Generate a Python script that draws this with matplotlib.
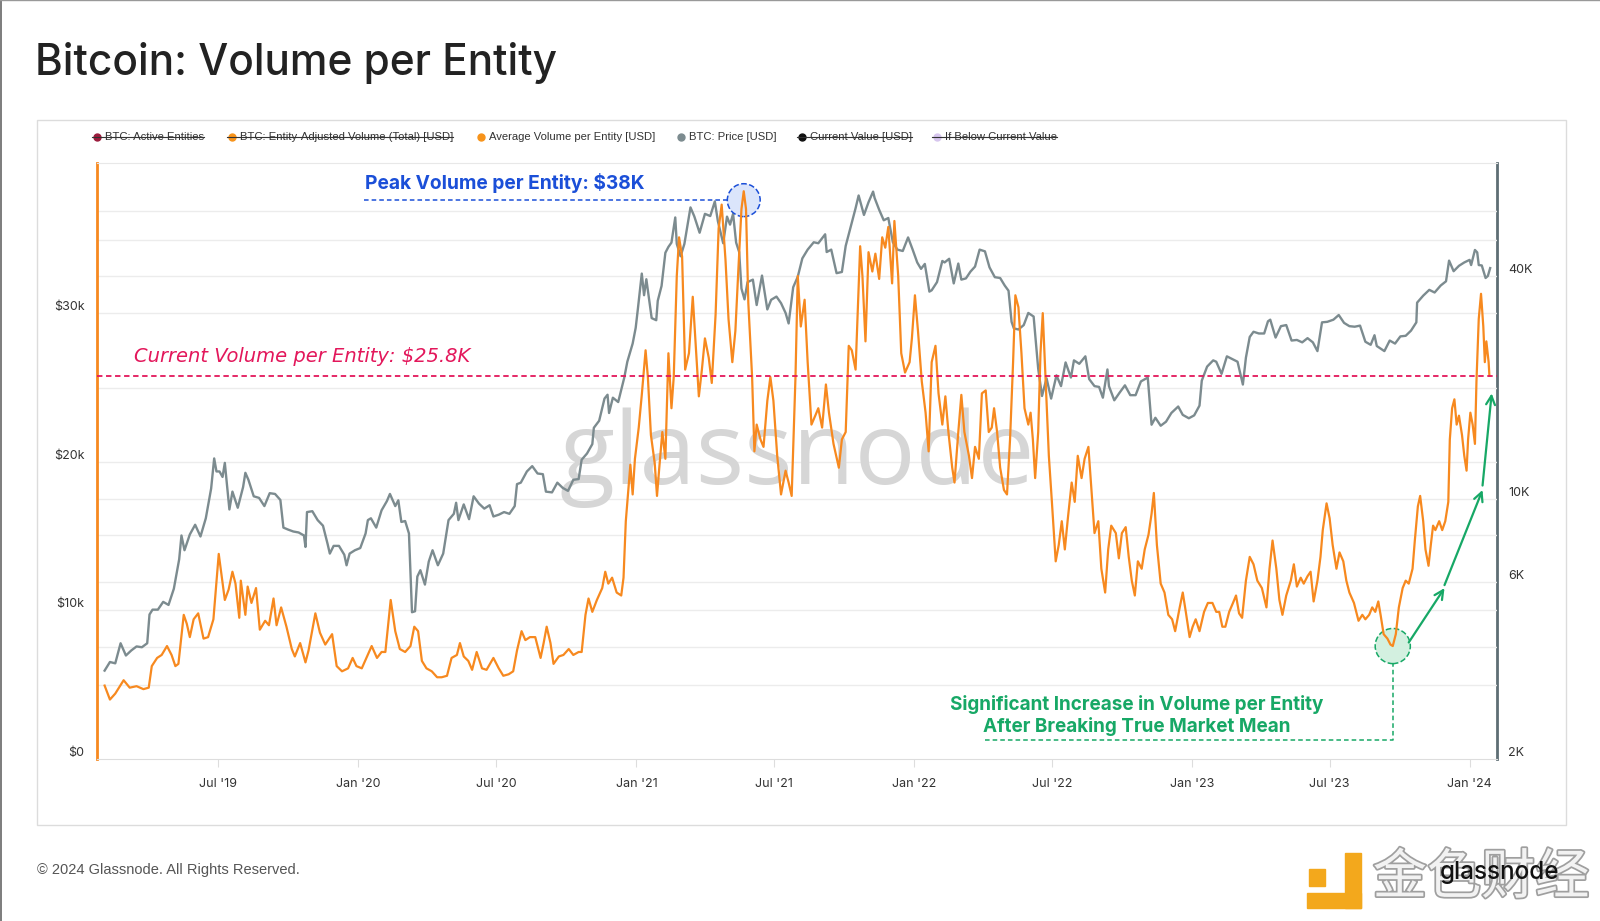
import matplotlib
matplotlib.use("Agg")
import matplotlib.pyplot as plt
import matplotlib.dates as mdates
import matplotlib.patheffects as pe
import matplotlib.transforms as mtransforms
from matplotlib.lines import Line2D
from matplotlib.patches import Rectangle
from matplotlib.ticker import NullLocator
import pandas as pd

# ---- data ----
# BTC price, thousands of USD (right, log axis)
price_dates = [
    "2019-02-02", "2019-02-09", "2019-02-16", "2019-02-23", "2019-03-02", "2019-03-09", "2019-03-16", "2019-03-23",
    "2019-03-30", "2019-04-02", "2019-04-06", "2019-04-13", "2019-04-20", "2019-04-27", "2019-05-04", "2019-05-11",
    "2019-05-14", "2019-05-18", "2019-05-25", "2019-06-01", "2019-06-08", "2019-06-15", "2019-06-22", "2019-06-26",
    "2019-06-29", "2019-07-03", "2019-07-07", "2019-07-10", "2019-07-16", "2019-07-20", "2019-07-27", "2019-08-03",
    "2019-08-06", "2019-08-10", "2019-08-17", "2019-08-24", "2019-08-31", "2019-09-07", "2019-09-14", "2019-09-21",
    "2019-09-25", "2019-10-01", "2019-10-08", "2019-10-15", "2019-10-22", "2019-10-24", "2019-10-26", "2019-11-02",
    "2019-11-09", "2019-11-16", "2019-11-22", "2019-11-25", "2019-11-30", "2019-12-07", "2019-12-14", "2019-12-17",
    "2019-12-21", "2019-12-28", "2020-01-04", "2020-01-11", "2020-01-14", "2020-01-18", "2020-01-25", "2020-02-01",
    "2020-02-08", "2020-02-12", "2020-02-19", "2020-02-23", "2020-02-27", "2020-03-03", "2020-03-08", "2020-03-12",
    "2020-03-16", "2020-03-19", "2020-03-23", "2020-03-29", "2020-04-03", "2020-04-08", "2020-04-15", "2020-04-22",
    "2020-04-29", "2020-05-06", "2020-05-09", "2020-05-12", "2020-05-19", "2020-05-26", "2020-06-01", "2020-06-08",
    "2020-06-15", "2020-06-22", "2020-06-27", "2020-07-04", "2020-07-11", "2020-07-18", "2020-07-25", "2020-07-28",
    "2020-08-02", "2020-08-10", "2020-08-17", "2020-08-24", "2020-08-31", "2020-09-04", "2020-09-12", "2020-09-19",
    "2020-09-26", "2020-10-03", "2020-10-10", "2020-10-17", "2020-10-21", "2020-10-28", "2020-11-04", "2020-11-06",
    "2020-11-13", "2020-11-20", "2020-11-24", "2020-11-26", "2020-12-01", "2020-12-08", "2020-12-16", "2020-12-20",
    "2020-12-27", "2020-12-31", "2021-01-03", "2021-01-08", "2021-01-11", "2021-01-14", "2021-01-21", "2021-01-27",
    "2021-01-29", "2021-02-03", "2021-02-08", "2021-02-12", "2021-02-16", "2021-02-21", "2021-02-23", "2021-02-28",
    "2021-03-05", "2021-03-13", "2021-03-18", "2021-03-25", "2021-04-01", "2021-04-08", "2021-04-14", "2021-04-18",
    "2021-04-25", "2021-04-30", "2021-05-04", "2021-05-08", "2021-05-12", "2021-05-16", "2021-05-19", "2021-05-23",
    "2021-05-27", "2021-06-03", "2021-06-08", "2021-06-15", "2021-06-22", "2021-06-27", "2021-07-04", "2021-07-10",
    "2021-07-16", "2021-07-20", "2021-07-26", "2021-08-01", "2021-08-07", "2021-08-14", "2021-08-22", "2021-08-28",
    "2021-09-06", "2021-09-08", "2021-09-14", "2021-09-21", "2021-09-28", "2021-10-03", "2021-10-10", "2021-10-16",
    "2021-10-20", "2021-10-27", "2021-11-02", "2021-11-08", "2021-11-10", "2021-11-16", "2021-11-22", "2021-11-28",
    "2021-12-04", "2021-12-10", "2021-12-17", "2021-12-24", "2021-12-30", "2022-01-05", "2022-01-10", "2022-01-15",
    "2022-01-21", "2022-01-24", "2022-01-31", "2022-02-07", "2022-02-10", "2022-02-16", "2022-02-22", "2022-02-28",
    "2022-03-04", "2022-03-10", "2022-03-16", "2022-03-22", "2022-03-28", "2022-04-04", "2022-04-10", "2022-04-17",
    "2022-04-24", "2022-04-30", "2022-05-05", "2022-05-09", "2022-05-12", "2022-05-18", "2022-05-25", "2022-05-31",
    "2022-06-07", "2022-06-13", "2022-06-18", "2022-06-24", "2022-06-30", "2022-07-07", "2022-07-13", "2022-07-19",
    "2022-07-26", "2022-07-30", "2022-08-06", "2022-08-14", "2022-08-19", "2022-08-26", "2022-09-01", "2022-09-06",
    "2022-09-12", "2022-09-14", "2022-09-21", "2022-09-28", "2022-10-05", "2022-10-12", "2022-10-19", "2022-10-26",
    "2022-11-04", "2022-11-09", "2022-11-14", "2022-11-21", "2022-11-28", "2022-12-05", "2022-12-14", "2022-12-20",
    "2022-12-28", "2023-01-04", "2023-01-11", "2023-01-14", "2023-01-21", "2023-01-29", "2023-02-02", "2023-02-09",
    "2023-02-16", "2023-02-23", "2023-03-02", "2023-03-09", "2023-03-13", "2023-03-18", "2023-03-23", "2023-03-30",
    "2023-04-06", "2023-04-11", "2023-04-14", "2023-04-21", "2023-04-28", "2023-05-05", "2023-05-12", "2023-05-19",
    "2023-05-26", "2023-06-02", "2023-06-09", "2023-06-15", "2023-06-21", "2023-06-28", "2023-07-06", "2023-07-13",
    "2023-07-20", "2023-07-27", "2023-08-03", "2023-08-10", "2023-08-17", "2023-08-24", "2023-08-29", "2023-09-01",
    "2023-09-11", "2023-09-18", "2023-09-25", "2023-10-02", "2023-10-09", "2023-10-16", "2023-10-23", "2023-10-24",
    "2023-11-01", "2023-11-09", "2023-11-16", "2023-11-24", "2023-12-01", "2023-12-05", "2023-12-11", "2023-12-18",
    "2023-12-25", "2024-01-01", "2024-01-03", "2024-01-08", "2024-01-11", "2024-01-13", "2024-01-17", "2024-01-22",
    "2024-01-25", "2024-01-28",
]
price_k = [
    3.46, 3.65, 3.62, 4.10, 3.80, 3.92, 4.02, 4.00,
    4.10, 4.90, 5.05, 5.05, 5.30, 5.20, 5.75, 6.90,
    8.00, 7.30, 8.05, 8.55, 7.95, 8.90, 10.70, 12.90,
    11.90, 11.90, 11.50, 12.55, 9.40, 10.50, 9.50, 10.80,
    11.80, 11.30, 10.20, 10.10, 9.60, 10.40, 10.35, 9.97,
    8.40, 8.30, 8.20, 8.15, 8.00, 7.45, 9.25, 9.30,
    8.80, 8.50, 7.60, 7.15, 7.50, 7.50, 7.10, 6.65,
    7.15, 7.30, 7.40, 8.10, 8.80, 8.90, 8.40, 9.35,
    9.90, 10.35, 9.60, 9.95, 8.70, 8.75, 8.10, 4.97,
    5.00, 6.20, 6.45, 5.90, 6.80, 7.30, 6.65, 7.15,
    8.80, 9.15, 9.80, 8.80, 9.70, 8.85, 10.20, 9.75,
    9.45, 9.65, 9.00, 9.10, 9.25, 9.15, 9.60, 11.00,
    11.10, 11.90, 12.30, 11.75, 11.70, 10.50, 10.45, 11.10,
    10.75, 10.55, 11.30, 11.35, 12.80, 13.30, 14.10, 15.60,
    16.30, 18.70, 19.15, 17.10, 18.80, 18.30, 21.30, 23.50,
    26.30, 29.00, 32.80, 40.60, 35.50, 39.20, 30.80, 30.40,
    34.30, 37.60, 46.20, 47.90, 49.20, 57.50, 48.80, 45.20,
    48.80, 61.20, 57.90, 52.30, 58.80, 58.00, 63.50, 56.20,
    49.00, 57.80, 55.00, 58.80, 49.20, 46.40, 37.00, 34.60,
    38.50, 39.10, 33.40, 40.10, 32.50, 34.50, 35.20, 33.80,
    31.80, 29.80, 37.30, 39.80, 44.60, 47.10, 49.30, 49.00,
    51.80, 46.40, 47.10, 40.70, 41.00, 48.20, 54.70, 60.90,
    65.90, 58.40, 63.20, 67.50, 64.90, 60.30, 56.50, 57.30,
    49.30, 47.10, 46.70, 50.80, 47.10, 43.50, 41.80, 43.10,
    36.30, 36.60, 38.50, 43.90, 43.50, 44.50, 38.20, 43.20,
    39.10, 39.40, 41.10, 42.40, 47.10, 46.60, 42.20, 39.70,
    39.50, 37.70, 36.50, 30.10, 28.90, 28.70, 29.50, 31.80,
    31.10, 22.50, 19.00, 21.20, 18.70, 21.60, 20.20, 23.40,
    21.30, 23.70, 23.20, 24.30, 21.10, 20.20, 20.10, 18.80,
    22.40, 20.20, 18.50, 19.40, 20.30, 19.10, 19.10, 20.80,
    21.30, 15.90, 16.60, 15.80, 16.20, 17.10, 17.80, 16.90,
    16.55, 16.85, 17.90, 20.90, 22.80, 23.70, 23.50, 21.80,
    24.30, 23.90, 23.50, 20.40, 24.10, 27.40, 28.30, 28.00,
    28.00, 30.20, 30.50, 27.30, 29.30, 29.50, 26.80, 26.90,
    26.50, 27.20, 26.50, 25.10, 30.00, 30.10, 30.50, 31.40,
    29.90, 29.30, 29.20, 29.40, 26.60, 26.10, 27.70, 25.90,
    25.10, 26.80, 26.30, 27.50, 27.60, 28.50, 30.00, 33.90,
    35.40, 36.70, 36.10, 37.70, 38.70, 44.00, 41.20, 42.60,
    43.50, 44.20, 42.80, 47.00, 46.30, 42.80, 42.70, 39.50,
    40.00, 42.00,
]

# Average volume per entity, thousands of USD (left axis)
vpe_dates = [
    "2019-02-02", "2019-02-09", "2019-02-16", "2019-02-27", "2019-03-07", "2019-03-16", "2019-03-25", "2019-04-01",
    "2019-04-05", "2019-04-12", "2019-04-18", "2019-04-25", "2019-05-01", "2019-05-06", "2019-05-10", "2019-05-17",
    "2019-05-21", "2019-05-25", "2019-05-30", "2019-06-05", "2019-06-12", "2019-06-18", "2019-06-25", "2019-07-02",
    "2019-07-10", "2019-07-15", "2019-07-20", "2019-07-24", "2019-07-29", "2019-07-31", "2019-08-06", "2019-08-09",
    "2019-08-14", "2019-08-20", "2019-08-25", "2019-09-01", "2019-09-06", "2019-09-12", "2019-09-16", "2019-09-22",
    "2019-09-29", "2019-10-06", "2019-10-10", "2019-10-17", "2019-10-24", "2019-10-28", "2019-11-06", "2019-11-12",
    "2019-11-19", "2019-11-28", "2019-12-04", "2019-12-11", "2019-12-19", "2019-12-25", "2019-12-30", "2020-01-06",
    "2020-01-13", "2020-01-19", "2020-01-26", "2020-02-01", "2020-02-06", "2020-02-13", "2020-02-19", "2020-02-25",
    "2020-03-03", "2020-03-10", "2020-03-15", "2020-03-20", "2020-03-25", "2020-03-31", "2020-04-07", "2020-04-14",
    "2020-04-20", "2020-04-27", "2020-05-03", "2020-05-10", "2020-05-14", "2020-05-19", "2020-05-25", "2020-05-30",
    "2020-06-05", "2020-06-12", "2020-06-18", "2020-06-27", "2020-07-04", "2020-07-10", "2020-07-17", "2020-07-23",
    "2020-07-28", "2020-08-03", "2020-08-08", "2020-08-14", "2020-08-21", "2020-08-28", "2020-09-01", "2020-09-05",
    "2020-09-10", "2020-09-14", "2020-09-21", "2020-09-27", "2020-10-04", "2020-10-10", "2020-10-17", "2020-10-21",
    "2020-10-26", "2020-10-30", "2020-11-04", "2020-11-10", "2020-11-17", "2020-11-21", "2020-11-25", "2020-11-30",
    "2020-12-06", "2020-12-12", "2020-12-15", "2020-12-18", "2020-12-24", "2020-12-27", "2020-12-30", "2021-01-04",
    "2021-01-08", "2021-01-13", "2021-01-16", "2021-01-20", "2021-01-25", "2021-01-28", "2021-01-31", "2021-02-04",
    "2021-02-08", "2021-02-12", "2021-02-16", "2021-02-19", "2021-02-23", "2021-02-26", "2021-03-02", "2021-03-06",
    "2021-03-11", "2021-03-16", "2021-03-19", "2021-03-24", "2021-03-28", "2021-04-01", "2021-04-06", "2021-04-10",
    "2021-04-15", "2021-04-19", "2021-04-23", "2021-04-28", "2021-05-02", "2021-05-07", "2021-05-11", "2021-05-15",
    "2021-05-19", "2021-05-22", "2021-05-25", "2021-05-28", "2021-06-02", "2021-06-05", "2021-06-08", "2021-06-13",
    "2021-06-17", "2021-06-22", "2021-06-26", "2021-06-30", "2021-07-05", "2021-07-10", "2021-07-16", "2021-07-20",
    "2021-07-24", "2021-07-29", "2021-08-01", "2021-08-05", "2021-08-10", "2021-08-14", "2021-08-19", "2021-08-24",
    "2021-08-28", "2021-09-02", "2021-09-07", "2021-09-11", "2021-09-17", "2021-09-24", "2021-09-28", "2021-10-03",
    "2021-10-07", "2021-10-11", "2021-10-16", "2021-10-19", "2021-10-22", "2021-10-25", "2021-10-29", "2021-11-02",
    "2021-11-07", "2021-11-11", "2021-11-16", "2021-11-20", "2021-11-24", "2021-11-28", "2021-12-03", "2021-12-06",
    "2021-12-11", "2021-12-15", "2021-12-20", "2021-12-26", "2021-12-29", "2022-01-02", "2022-01-06", "2022-01-11",
    "2022-01-16", "2022-01-20", "2022-01-24", "2022-01-29", "2022-02-02", "2022-02-07", "2022-02-11", "2022-02-15",
    "2022-02-20", "2022-02-23", "2022-02-28", "2022-03-04", "2022-03-08", "2022-03-14", "2022-03-18", "2022-03-22",
    "2022-03-27", "2022-03-31", "2022-04-05", "2022-04-09", "2022-04-13", "2022-04-16", "2022-04-20", "2022-04-24",
    "2022-04-29", "2022-05-03", "2022-05-07", "2022-05-11", "2022-05-14", "2022-05-18", "2022-05-22", "2022-05-26",
    "2022-05-31", "2022-06-03", "2022-06-06", "2022-06-09", "2022-06-13", "2022-06-16", "2022-06-19", "2022-06-23",
    "2022-06-27", "2022-07-01", "2022-07-06", "2022-07-10", "2022-07-14", "2022-07-18", "2022-07-22", "2022-07-27",
    "2022-07-31", "2022-08-04", "2022-08-09", "2022-08-13", "2022-08-18", "2022-08-22", "2022-08-26", "2022-08-31",
    "2022-09-04", "2022-09-09", "2022-09-13", "2022-09-17", "2022-09-23", "2022-09-27", "2022-10-01", "2022-10-06",
    "2022-10-10", "2022-10-14", "2022-10-18", "2022-10-22", "2022-10-27", "2022-10-31", "2022-11-05", "2022-11-09",
    "2022-11-12", "2022-11-16", "2022-11-21", "2022-11-26", "2022-12-01", "2022-12-06", "2022-12-10", "2022-12-16",
    "2022-12-20", "2022-12-24", "2022-12-29", "2023-01-02", "2023-01-06", "2023-01-11", "2023-01-17", "2023-01-22",
    "2023-01-28", "2023-02-02", "2023-02-06", "2023-02-10", "2023-02-14", "2023-02-19", "2023-02-24", "2023-02-28",
    "2023-03-04", "2023-03-08", "2023-03-13", "2023-03-18", "2023-03-23", "2023-03-28", "2023-04-03", "2023-04-09",
    "2023-04-13", "2023-04-17", "2023-04-22", "2023-04-26", "2023-04-30", "2023-05-05", "2023-05-11", "2023-05-15",
    "2023-05-19", "2023-05-24", "2023-05-28", "2023-06-02", "2023-06-06", "2023-06-10", "2023-06-15", "2023-06-19",
    "2023-06-22", "2023-06-27", "2023-07-01", "2023-07-05", "2023-07-10", "2023-07-14", "2023-07-19", "2023-07-23",
    "2023-07-27", "2023-08-02", "2023-08-08", "2023-08-13", "2023-08-17", "2023-08-22", "2023-08-26", "2023-08-30",
    "2023-09-03", "2023-09-06", "2023-09-10", "2023-09-15", "2023-09-19", "2023-09-22", "2023-09-26", "2023-09-30",
    "2023-10-05", "2023-10-09", "2023-10-13", "2023-10-18", "2023-10-21", "2023-10-25", "2023-10-28", "2023-11-01",
    "2023-11-04", "2023-11-08", "2023-11-11", "2023-11-14", "2023-11-17", "2023-11-22", "2023-11-26", "2023-11-30",
    "2023-12-04", "2023-12-06", "2023-12-09", "2023-12-12", "2023-12-15", "2023-12-18", "2023-12-22", "2023-12-25",
    "2023-12-28", "2023-12-30", "2024-01-02", "2024-01-05", "2024-01-08", "2024-01-10", "2024-01-13", "2024-01-16",
    "2024-01-19", "2024-01-21", "2024-01-23", "2024-01-26", "2024-01-27",
]
vpe_k = [
    4.94, 4.0, 4.4, 5.3, 4.8, 4.9, 4.7, 4.8,
    6.25, 6.8, 7.0, 7.6, 7.0, 6.25, 6.4, 9.7,
    9.1, 8.2, 9.4, 9.8, 8.1, 8.2, 9.4, 13.8,
    10.7, 11.4, 12.6, 11.8, 9.5, 12.0, 9.7, 11.6,
    10.5, 11.5, 8.7, 9.3, 9.0, 10.8, 9.0, 10.2,
    8.9, 7.4, 6.9, 7.8, 6.5, 7.3, 9.8, 8.5,
    7.7, 8.4, 6.25, 5.9, 6.1, 6.8, 6.25, 6.1,
    6.9, 7.6, 6.8, 7.2, 7.2, 10.7, 8.6, 7.4,
    7.2, 7.6, 8.9, 8.6, 6.6, 6.1, 5.9, 5.5,
    5.5, 5.6, 6.8, 7.0, 7.8, 6.9, 6.6, 6.0,
    7.2, 6.1, 6.0, 6.8, 6.1, 5.6, 5.7, 5.9,
    7.3, 8.6, 8.0, 8.2, 8.2, 6.8, 7.8, 8.9,
    7.8, 6.4, 6.9, 7.0, 7.4, 7.0, 7.2, 7.2,
    9.7, 10.8, 9.9, 10.7, 11.5, 12.6, 11.8, 12.2,
    11.2, 11.0, 12.2, 16.0, 19.8, 17.8, 20.2, 22.3,
    24.5, 27.5, 25.7, 21.8, 19.9, 17.7, 19.6, 22.0,
    20.2, 27.3, 23.6, 25.7, 32.5, 35.1, 33.8, 26.2,
    27.3, 31.1, 28.6, 24.4, 26.2, 28.3, 27.0, 25.3,
    29.9, 35.7, 37.3, 33.6, 29.6, 26.7, 28.8, 33.0,
    37.0, 38.2, 37.0, 30.7, 25.7, 20.7, 22.5, 21.5,
    21.0, 24.1, 25.7, 24.1, 20.4, 17.8, 19.4, 18.6,
    17.7, 25.7, 32.5, 29.1, 30.9, 26.7, 22.5, 23.1,
    23.6, 22.3, 25.2, 23.3, 21.2, 19.6, 21.5, 22.0,
    27.8, 27.5, 26.2, 30.4, 34.5, 32.5, 28.1, 34.1,
    32.8, 34.0, 32.3, 35.1, 34.4, 35.8, 32.0, 36.2,
    32.5, 27.3, 26.0, 26.7, 28.3, 31.2, 28.8, 25.4,
    23.3, 20.7, 26.7, 27.8, 24.6, 22.5, 24.4, 22.0,
    19.6, 18.6, 22.0, 24.5, 22.0, 20.4, 18.9, 21.0,
    20.2, 24.6, 24.8, 22.0, 22.3, 23.6, 22.0, 19.6,
    18.1, 17.8, 21.5, 26.7, 31.2, 30.4, 27.3, 23.6,
    22.5, 23.3, 21.5, 18.9, 22.0, 27.3, 30.0, 25.2,
    20.4, 17.3, 13.3, 14.4, 16.0, 14.1, 16.2, 18.6,
    17.3, 20.4, 18.9, 20.2, 21.0, 18.1, 15.2, 16.0,
    12.8, 11.2, 14.1, 15.7, 15.2, 13.5, 15.2, 15.6,
    13.6, 12.0, 11.0, 13.3, 12.8, 14.1, 15.1, 16.5,
    17.9, 14.4, 11.8, 11.2, 9.7, 9.4, 8.6, 10.2,
    11.2, 9.9, 8.2, 8.9, 9.4, 8.6, 9.9, 10.5,
    10.5, 9.9, 9.9, 8.9, 8.9, 9.9, 10.5, 11.0,
    9.8, 9.5, 12.0, 13.6, 13.1, 12.0, 11.5, 10.2,
    12.8, 14.7, 12.8, 10.7, 9.7, 11.0, 12.0, 13.1,
    11.6, 12.2, 11.8, 12.3, 12.6, 10.6, 12.0, 13.6,
    15.4, 17.2, 16.2, 14.4, 12.8, 13.9, 13.3, 12.0,
    11.2, 10.5, 9.3, 9.7, 9.4, 9.7, 10.2, 9.9,
    10.6, 9.7, 8.4, 8.1, 7.7, 7.6, 8.4, 10.2,
    11.5, 12.0, 11.8, 12.8, 14.7, 17.0, 17.7, 16.0,
    14.1, 13.0, 14.4, 15.7, 15.4, 16.0, 15.4, 16.0,
    17.3, 21.5, 23.6, 24.2, 22.5, 23.1, 21.8, 20.4,
    19.4, 21.5, 23.3, 22.5, 21.2, 25.4, 29.6, 31.3,
    29.1, 26.7, 28.1, 26.7, 25.8,
]

current_value = 25.8
x_ticks = ["2019-07-01", "2020-01-01", "2020-07-01", "2021-01-01", "2021-07-01",
           "2022-01-01", "2022-07-01", "2023-01-01", "2023-07-01", "2024-01-01"]
left_ticks = [0, 10, 20, 30]
left_labels = ["$0", "$10k", "$20k", "$30k"]
right_ticks = [2, 6, 10, 40]
right_labels = ["2K", "6K", "10K", "40K"]

legend_labels = ["BTC: Active Entities", "BTC: Entity-Adjusted Volume (Total) [USD]",
                 "Average Volume per Entity [USD]", "BTC: Price [USD]",
                 "Current Value [USD]", "If Below Current Value"]
legend_colors = ["#9b1b3c", "#f7931a", "#f7931a", "#7c8b8f", "#111111", "#d7c6ee"]
legend_hidden = [True, True, False, False, True, True]

# ---- styling ----
ORANGE = "#f7891f"
GRAY = "#7c8b8f"
RED = "#e3175b"
BLUE = "#1b4fd8"
GREEN = "#17a866"
W, H = 1600, 921

def fx(px):
    return px / W

def fy(py):
    return 1 - py / H

plt.rcParams["font.family"] = ["Inter", "DejaVu Sans"]

fig = plt.figure(figsize=(W / 100, H / 100), dpi=100)
fig.patch.set_facecolor("white")

# outer card and frame
fig.add_artist(Rectangle((fx(37), fy(825)), (1566 - 37) / W, (825 - 120) / H,
                         transform=fig.transFigure, fill=False, ec="#dcdcdc", lw=1))
fig.add_artist(Line2D([0.0005, 0.0005], [0, 1], transform=fig.transFigure, color="#666", lw=1.2))
fig.add_artist(Line2D([0, 1], [0.9995, 0.9995], transform=fig.transFigure, color="#999", lw=1))

fig.text(fx(35), fy(63), "Bitcoin: Volume per Entity", fontsize=30.5, color="#222222",
         va="center", ha="left", fontweight="medium")
fig.text(fx(37), fy(870), "\u00a9 2024 Glassnode. All Rights Reserved.", fontsize=10.5,
         color="#555555", va="center", family=["Liberation Sans", "DejaVu Sans"])

ax = fig.add_axes([fx(97), fy(759), (1497 - 97) / W, (759 - 163) / H])
ax2 = ax.twinx()

x_start, x_end = pd.Timestamp("2019-01-23"), pd.Timestamp("2024-02-06")
ax.set_xlim(x_start, x_end)
ax.set_ylim(0, 40.1)
ax2.set_yscale("log")
ax2.set_ylim(2, 80.6)

# grid lines (left linear + right log)
for v in [5, 10, 20, 30]:
    ax.axhline(v, color="#ececec", lw=1, zorder=0)
right_trans = mtransforms.blended_transform_factory(ax.transAxes, ax2.transData)
for v in [4, 6, 8, 10, 20, 40, 50, 60]:
    ax.plot([0, 1], [v, v], transform=right_trans, color="#ececec", lw=1, zorder=0)

ax.text(0.5, 0.505, "glassnode", transform=ax.transAxes, ha="center", va="center",
        fontsize=73, color="#d6d6d6", zorder=1, family=["Open Sans", "DejaVu Sans"])

pd_price = pd.to_datetime(price_dates)
pd_vpe = pd.to_datetime(vpe_dates)
ax.plot(pd_price, price_k, color=GRAY, lw=1.7, zorder=2, transform=ax2.transData)
ax.plot(pd_vpe, vpe_k, color=ORANGE, lw=1.6, zorder=5)

# current value line
ax.axhline(current_value, color=RED, lw=1.3, ls=(0, (3, 2)), zorder=6)
ax.text(pd.Timestamp("2019-03-12"), 27.1, f"Current Volume per Entity: ${current_value}K",
        color=RED, fontsize=14, style="italic", va="center", ha="left",
        family=["DejaVu Sans"], zorder=7)

# peak annotation (circle sits just under the spike tip)
vpe_series = pd.Series(vpe_k, index=pd_vpe)
peak_date = vpe_series.idxmax()
peak_val = vpe_series.max()
mark_val = peak_val - 0.6
ax.plot([pd.Timestamp("2020-01-09"), peak_date], [mark_val, mark_val], color=BLUE, lw=1.1,
        ls=(0, (3, 2)), zorder=3)
ax.scatter([peak_date], [mark_val], s=560, facecolor="#dbe5fb", edgecolor=BLUE, lw=1.1,
           linestyle="--", zorder=4)
ax.text(pd.Timestamp("2020-01-10"), 38.75, f"Peak Volume per Entity: ${peak_val:.0f}K",
        color=BLUE, fontsize=13.8, fontweight="bold", va="center", ha="left", zorder=7)

# trough annotation (2023 low)
late = vpe_series[vpe_series.index > pd.Timestamp("2023-06-01")]
low_date = late.idxmin()
low_val = late.min()
ax.plot([pd.Timestamp("2022-04-04"), low_date, low_date], [1.29, 1.29, low_val],
        color=GREEN, lw=1.1, ls=(0, (3, 2)), zorder=3)
ax.scatter([low_date], [low_val], s=640, facecolor="#d3f0e0", edgecolor=GREEN, lw=1.1,
           linestyle="--", zorder=4)
ax.text(pd.Timestamp("2022-10-21"), 2.95,
        "Significant Increase in Volume per Entity\nAfter Breaking True Market Mean",
        color=GREEN, fontsize=13.6, fontweight="bold", ha="center", va="center",
        linespacing=1.2, zorder=7)

arrow_pts = [
    (("2023-10-13", 7.84), ("2023-11-29", 11.5)),
    (("2023-11-29", 11.7), ("2024-01-18", 18.1)),
    (("2024-01-18", 18.4), ("2024-01-30", 24.6)),
]
for (d0, v0), (d1, v1) in arrow_pts:
    ax.annotate("", xy=(pd.Timestamp(d1), v1), xytext=(pd.Timestamp(d0), v0),
                arrowprops=dict(arrowstyle="->", color=GREEN, lw=1.6, mutation_scale=16,
                                shrinkA=0, shrinkB=0), zorder=7)

# axes styling
ax.set_zorder(ax2.get_zorder() + 1)
ax.patch.set_visible(False)
ax.set_xticks(pd.to_datetime(x_ticks))
ax.xaxis.set_major_formatter(mdates.DateFormatter("%b '%y"))
ax.tick_params(axis="x", length=6, color="#dddddd", pad=8, labelsize=9, labelcolor="#333333")
ax.set_yticks(left_ticks, labels=left_labels)
ax.tick_params(axis="y", length=0, pad=9, labelsize=9, labelcolor="#333333")
ax2.set_yticks(right_ticks, labels=right_labels)
ax2.yaxis.set_minor_locator(NullLocator())
ax2.tick_params(axis="y", which="both", length=0, pad=8, labelsize=9, labelcolor="#333333")
plt.setp(ax.get_yticklabels(), va="bottom")
plt.setp(ax2.get_yticklabels(), va="bottom")

ax.spines["right"].set_visible(False)
ax.spines["left"].set_color(ORANGE)
ax.spines["left"].set_linewidth(2)
ax.spines["top"].set_color("#e8e8e8")
ax.spines["bottom"].set_color("#dddddd")
for s in ["left", "top", "bottom"]:
    ax2.spines[s].set_visible(False)
ax2.spines["right"].set_color("#5e6e74")
ax2.spines["right"].set_linewidth(2)

# legend row
legend_x = [97, 232, 481, 681, 802, 937]
leg_y = fy(137)
legend_texts = []
for x, lab, col in zip(legend_x, legend_labels, legend_colors):
    fig.add_artist(Line2D([fx(x)], [leg_y], marker="o", ms=5, color=col, ls="none",
                          transform=fig.transFigure))
    t = fig.text(fx(x + 8), leg_y, lab, fontsize=8.1, color="#333333", va="center",
                 family=["Liberation Sans", "DejaVu Sans"])
    legend_texts.append(t)

fig.canvas.draw()
renderer = fig.canvas.get_renderer()
for x, t, hidden in zip(legend_x, legend_texts, legend_hidden):
    if hidden:
        bb = t.get_window_extent(renderer)
        fig.add_artist(Line2D([fx(x - 5), bb.x1 / W], [leg_y, leg_y], color="#333333", lw=0.8,
                              transform=fig.transFigure))

# watermark logos, bottom right
GOLD = "#f3a81c"
fig.add_artist(Rectangle((fx(1309), fy(886)), 16 / W, 17 / H, transform=fig.transFigure,
                         color=GOLD))
fig.add_artist(Rectangle((fx(1345), fy(908)), 16 / W, 55 / H, transform=fig.transFigure,
                         color=GOLD))
fig.add_artist(Rectangle((fx(1307), fy(908)), 54 / W, 15 / H, transform=fig.transFigure,
                         color=GOLD))
fig.text(fx(1481), fy(878), "金色财经", fontsize=39, color="#f2f2f2", ha="center", va="center",
         family=["Noto Sans CJK SC"],
         path_effects=[pe.withStroke(linewidth=2.5, foreground="#9f9f9f")])
fig.text(fx(1500), fy(872), "glassnode", fontsize=17.5, color="#111111", ha="center",
         va="center", fontweight="medium")

fig.savefig("out.png", dpi=100)
